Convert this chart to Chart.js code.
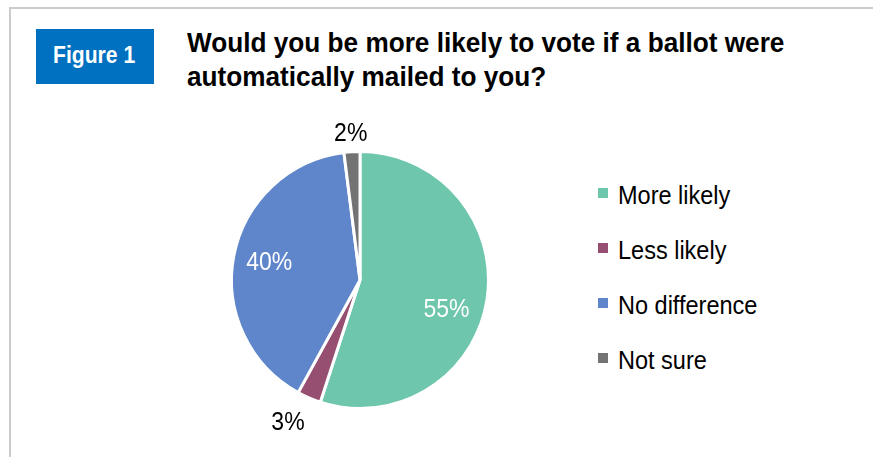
<!DOCTYPE html>
<html>
<head>
<meta charset="utf-8">
<script src="https://cdn.jsdelivr.net/npm/chart.js@4"></script>
<style>
  html, body { margin: 0; padding: 0; background: #fff; }
  body { width: 873px; height: 457px; position: relative; overflow: hidden;
         font-family: "Liberation Sans", Arial, sans-serif; }
  .frame { position: absolute; left: 9px; top: 7px; width: 880px; height: 470px;
           border-left: 2px solid #cccccc; border-top: 2px solid #cccccc; }
  .tag { position: absolute; left: 36px; top: 29px; width: 118px; height: 55px;
         background: #0070c0; color: #fff; }
  .tag div { position: absolute; left: 17px; top: 14px; font-weight: bold; font-size: 24px;
             line-height: 24px; transform: scaleX(0.88); transform-origin: 0 0; white-space: nowrap; }
  .title { position: absolute; left: 187px; top: 26px; font-weight: bold; font-size: 28px;
           line-height: 34px; color: #000; transform: scaleX(0.935); transform-origin: 0 0;
           white-space: nowrap; }
  #wrap { position: absolute; left: 200px; top: 110px; width: 320px; height: 347px; }
  .legend { position: absolute; left: 598px; top: 183px; }
  .legend div { position: relative; height: 55px; }
  .legend span { position: absolute; left: 0; top: 5px; width: 10px; height: 10px; }
  .legend b { position: absolute; left: 20px; top: 0; font-weight: normal; font-size: 25px;
              line-height: 25px; color: #000; white-space: nowrap;
              transform: scaleX(0.94); transform-origin: 0 0; }
</style>
</head>
<body>
<div class="frame"></div>
<div class="tag"><div>Figure 1</div></div>
<div class="title">Would you be more likely to vote if a ballot were<br>automatically mailed to you?</div>
<div id="wrap"><canvas id="pie"></canvas></div>
<div class="legend" id="legend"></div>
<script>
const categories = ['More likely', 'Less likely', 'No difference', 'Not sure'];
const values = [55, 3, 40, 2];
const colors = ['#6ec6ad', '#964f70', '#5f86cb', '#737373'];

// label placement: fraction of radius (inside) or px beyond edge (outside), plus angle nudge
const labelStyle = [
    { color: '#fff', inside: 0.71, nudge: 0.17 },
    { color: '#000', outside: 31, nudge: 0.06 },
    { color: '#fff', inside: 0.72, nudge: 0.01 },
    { color: '#000', outside: 19, nudge: 0 }
];

const pieLabels = {
    id: 'pieLabels',
    afterDatasetsDraw(chart) {
        const c = chart.ctx;
        const meta = chart.getDatasetMeta(0);
        c.save();
        c.font = '25px "Liberation Sans", Arial, sans-serif';
        c.textAlign = 'center';
        c.textBaseline = 'middle';
        meta.data.forEach((arc, i) => {
            const s = labelStyle[i];
            const mid = (arc.startAngle + arc.endAngle) / 2 + s.nudge;
            const r = s.outside ? arc.outerRadius + s.outside : arc.outerRadius * s.inside;
            c.save();
            c.translate(arc.x + Math.cos(mid) * r, arc.y + Math.sin(mid) * r);
            c.scale(0.92, 1);
            c.fillStyle = s.color;
            c.fillText(values[i] + '%', 0, 1);
            c.restore();
        });
        c.restore();
    }
};

new Chart(document.getElementById('pie'), {
    type: 'pie',
    data: {
        labels: categories,
        datasets: [{
            data: values,
            backgroundColor: colors,
            borderColor: '#fff',
            borderWidth: 3
        }]
    },
    options: {
        responsive: true,
        maintainAspectRatio: false,
        animation: false,
        layout: { padding: { top: 40, bottom: 47, left: 30, right: 30 } },
        plugins: {
            legend: { display: false },
            tooltip: { enabled: false }
        }
    },
    plugins: [pieLabels]
});

const legendDiv = document.getElementById('legend');
categories.forEach((cat, i) => {
    legendDiv.innerHTML += `<div><span style="background:${colors[i]}"></span><b>${cat}</b></div>`;
});
</script>
</body>
</html>
